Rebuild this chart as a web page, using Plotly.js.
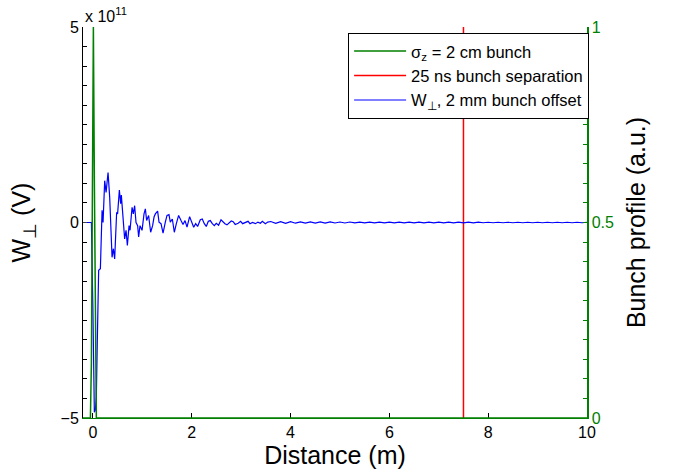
<!DOCTYPE html>
<html>
<head>
<meta charset="utf-8">
<script src="https://cdn.plot.ly/plotly-3.0.1.min.js"></script>
<style>html,body{margin:0;padding:0;background:#fff;}#chart{width:673px;height:474px;}</style>
</head>
<body>
<div id="chart"></div>
<script>
// Transverse wake, units of 1e11 V, vs distance (m)
const wakeDist = [-0.2,-0.03,0.0,0.03,0.05,0.07,0.09,0.117,0.152,0.186,0.206,0.239,0.267,0.307,0.34,0.36,0.388,0.415,0.441,0.481,0.50,0.536,0.562,0.576,0.611,0.643,0.671,0.698,0.732,0.752,0.793,0.819,0.845,0.873,0.906,0.926,0.954,0.995,1.035,1.062,1.088,1.128,1.169,1.209,1.238,1.264,1.31,1.339,1.379,1.42,1.466,1.5,1.54,1.567,1.608,1.648,1.689,1.735,1.784,1.824,1.865,1.905,1.958,1.998,2.04,2.08,2.12,2.174,2.214,2.255,2.295,2.336,2.376,2.417,2.457,2.497,2.544,2.593,2.633,2.673,2.714,2.754,2.8,2.84,2.88,2.94,2.99,3.03,3.08,3.14,3.18,3.23,3.29,3.34,3.39,3.43,3.49,3.54,3.6,3.7,3.8,3.9,4.0,4.1,4.2,4.3,4.4,4.5,4.6,4.7,4.8,4.9,5.0,5.1,5.2,5.3,5.4,5.5,5.6,5.7,5.8,5.9,6.0,6.1,6.2,6.3,6.4,6.5,6.6,6.7,6.8,6.9,7.0,7.1,7.2,7.3,7.4,7.5,7.6,7.7,7.8,7.9,8.0,8.1,8.2,8.3,8.4,8.5,8.6,8.7,8.8,8.9,9.0,9.1,9.2,9.3,9.4,9.5,9.6,9.7,9.8,9.9,10.0];
const wakeVal = [0,0,-2.2,-4.85,-4.8,-4.45,-3.0,-1.22,-1.18,0.31,0.0,1.07,0.77,1.28,0.65,-0.12,-0.89,-0.67,-0.93,0.26,0.22,0.83,0.48,0.7,0.14,-0.42,-0.2,-0.59,-0.08,-0.2,0.39,0.22,0.43,0.0,-0.08,-0.37,-0.08,-0.2,0.22,0.35,0.05,0.18,-0.25,-0.08,0.14,0.22,0.29,0.01,-0.03,-0.27,0.01,0.18,0.2,0.01,0.09,-0.25,-0.03,0.18,0.05,-0.05,0.05,-0.12,0.15,0.01,-0.12,-0.03,-0.1,0.07,0.09,-0.03,-0.1,0.03,0.05,-0.03,-0.08,-0.02,-0.07,0.07,0.01,-0.03,-0.06,-0.02,0.04,0.02,-0.05,-0.02,0.03,-0.03,0.0,0.03,-0.03,0.0,-0.03,0.01,-0.02,0.03,-0.03,0.01,0.025,-0.02,0.022,-0.02,0.02,-0.018,0.018,-0.016,0.017,-0.015,0.015,-0.014,0.014,-0.013,0.013,-0.012,0.012,-0.011,0.011,-0.011,0.01,-0.01,0.01,-0.01,0.01,-0.01,0.009,-0.009,0.009,-0.009,0.009,-0.009,0.009,-0.008,0.008,-0.008,0.008,-0.008,0.008,-0.008,0.008,-0.008,0.008,-0.007,0.007,-0.007,0.007,-0.007,0.007,-0.007,0.007,-0.007,0.007,-0.007,0.007,-0.006,0.006,-0.006,0.006,-0.006,0.006,-0.006,0.006,-0.006,0.006];
// Bunch profile (a.u.)
const bunchDist = [-0.2,-0.05,-0.03,-0.01,0.01,0.03,0.05,0.07,10];
const bunchVal = [0,0,0.14,0.61,1.0,0.61,0.14,0,0];
// Bunch separation marker (25 ns -> 7.5 m)
const sepDist = [7.5,7.5];
const sepVal = [-5,5];

const xTicks = [0,2,4,6,8,10];
const yTicks = [-5,0,5];
const yTickText = ['\u22125','0','5'];
const yMinorTicks = [-4.5,-4,-3.5,-3,-2.5,-2,-1.5,-1,-0.5,0.5,1,1.5,2,2.5,3,3.5,4,4.5];
const y2Ticks = [0,0.5,1];
const y2TickText = ['0','0.5','1'];
const y2MinorTicks = [0.05,0.1,0.15,0.2,0.25,0.3,0.35,0.4,0.45,0.55,0.6,0.65,0.7,0.75,0.8,0.85,0.9,0.95];

const FONT = 'Liberation Sans, Arial, Helvetica, sans-serif';
const GREEN = '#008000';

const traces = [
  {x: sepDist, y: sepVal, type:'scatter', mode:'lines', name:'25 ns bunch separation',
   line:{color:'#ff0000', width:1.5}, xaxis:'x', yaxis:'y', legendrank:2},
  {x: wakeDist, y: wakeVal, type:'scatter', mode:'lines', name:'W<sub>\u22a5</sub>, 2 mm bunch offset',
   line:{color:'#0000ff', width:1.2}, xaxis:'x', yaxis:'y', legendrank:3},
  {x: bunchDist, y: bunchVal, type:'scatter', mode:'lines', name:'\u03c3<sub>z</sub> = 2 cm bunch',
   line:{color:GREEN, width:1.5}, xaxis:'x', yaxis:'y2', legendrank:1}
];

const layout = {
  width:673, height:474,
  margin:{l:83, r:86, t:27, b:56, pad:0},
  paper_bgcolor:'#fff', plot_bgcolor:'#fff',
  font:{family:FONT, size:16, color:'#000'},
  showlegend:true,
  legend:{x:0.526, y:0.985, xanchor:'left', yanchor:'top', bgcolor:'#fff', itemwidth:52,
          bordercolor:'#000', borderwidth:1, font:{family:FONT, size:16.5}, tracegroupgap:0},
  xaxis:{range:[-0.2,10], tickvals:xTicks, ticktext:xTicks.map(String), ticks:'inside', ticklen:5,
         showline:true, linecolor:GREEN, linewidth:1, showgrid:false, zeroline:false,
         tickfont:{family:FONT, size:16, color:'#000'}, tickcolor:'#000',
         title:{text:'Distance (m)', font:{family:FONT, size:25}, standoff:3}, layer:'below traces'},
  xaxis2:{range:[-0.2,10], overlaying:'x', side:'top', anchor:'y', tickvals:xTicks, showticklabels:false,
          ticks:'inside', ticklen:5, showline:true, linecolor:'#000', linewidth:1, showgrid:false, zeroline:false},
  yaxis:{range:[-5,5], tickvals:yTicks, ticktext:yTickText, ticks:'inside', ticklen:4,
         minor:{tickvals:yMinorTicks, ticks:'inside', ticklen:4, tickcolor:'#000', showgrid:false},
         showline:true, linecolor:'#000', linewidth:1, showgrid:false, zeroline:false,
         tickfont:{family:FONT, size:16, color:'#000'},
         title:{text:'W<sub>\u22a5</sub> (V)', font:{family:FONT, size:25}, standoff:22}},
  yaxis2:{range:[0,1], overlaying:'y', side:'right', anchor:'x', tickvals:y2Ticks, ticktext:y2TickText,
          ticks:'inside', ticklen:4, tickcolor:GREEN,
          minor:{tickvals:y2MinorTicks, ticks:'inside', ticklen:4, tickcolor:GREEN, showgrid:false},
          showline:true, linecolor:GREEN, linewidth:1.5,
          showgrid:false, zeroline:false, tickfont:{family:FONT, size:16, color:GREEN},
          title:{text:'Bunch profile (a.u.)', font:{family:FONT, size:25, color:'#000'}, standoff:14}},
  annotations:[{xref:'paper', yref:'paper', x:0, y:1, xanchor:'left', yanchor:'bottom',
                text:'x 10<sup>11</sup>', showarrow:false, font:{family:FONT, size:16}, yshift:0}]
};

Plotly.newPlot('chart', traces, layout, {displayModeBar:false, staticPlot:true});
</script>
</body>
</html>
